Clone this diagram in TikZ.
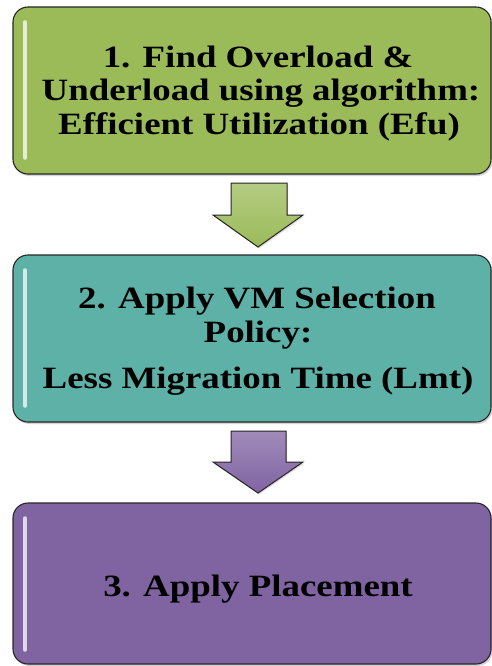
\documentclass[tikz,border=0pt]{standalone}
\usepackage{fontspec}
\newfontfamily\boxfont[FakeStretch=1.19]{Liberation Serif}
\usetikzlibrary{shadows}
\definecolor{gbox}{HTML}{9BBB59}
\definecolor{tbox}{HTML}{5DB1A6}
\definecolor{pbox}{HTML}{8064A2}
\tikzset{
  stepbox/.style={draw=black!85, line width=1.1pt, rounded corners=15pt,
    minimum width=478pt, inner sep=0pt,
    drop shadow={shadow xshift=1.5pt, shadow yshift=-2pt, opacity=0.35}},
  boxtext/.style={font=\boxfont\bfseries\fontsize{31}{33.5}\selectfont, inner sep=0pt, text=black, anchor=base},
  blockarrow/.style={draw=black!85, line width=1pt, line join=miter,
    drop shadow={shadow xshift=1pt, shadow yshift=-1.5pt, opacity=0.3}},
  gloss/.style={draw=white, line width=3.5pt, line cap=round, opacity=0.75}
}
\begin{document}
\begin{tikzpicture}[x=1pt,y=-1pt]
\useasboundingbox (0,0) rectangle (492,666);
% boxes
\node[stepbox, fill=gbox, minimum height=167pt] (b1) at (252,90.5) {};
\node[stepbox, fill=tbox, minimum height=167pt] (b2) at (252,338.5) {};
\node[stepbox, fill=pbox, minimum height=161pt] (b3) at (252,583.5) {};
% gloss highlights
\draw[gloss] (25,22) -- (25,158);
\draw[gloss] (25,270) -- (25,406);
\draw[gloss] (25,518) -- (25,650);
% texts
\node[boxtext] (t1a) at (258,68) {1. Find Overload \&};
\node[boxtext] (t1b) at (261,101) {Underload using algorithm:};
\node[boxtext] (t1c) at (259,135) {Efficient Utilization (Efu)};
\node[boxtext] (t2a) at (257,308) {2. Apply VM Selection};
\node[boxtext] (t2b) at (258,342) {Policy:};
\node[boxtext] (t2c) at (258,388) {Less Migration Time (Lmt)};
\node[boxtext] (t3) at (258,596) {3. Apply Placement};
% arrows
\draw[blockarrow, top color=gbox!75!white, bottom color=gbox]
  (231,183) -- (287,183) -- (287,215) -- (303,215) -- (258,247) -- (213,215) -- (231,215) -- cycle;
\draw[blockarrow, top color=pbox!75!white, bottom color=pbox]
  (231,431) -- (286,431) -- (286,462) -- (303,462) -- (258,493) -- (213,462) -- (231,462) -- cycle;
\end{tikzpicture}
\end{document}
